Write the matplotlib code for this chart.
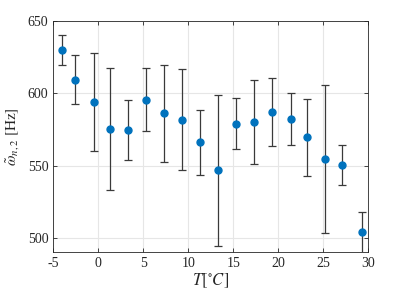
import matplotlib
matplotlib.use("Agg")
import matplotlib.pyplot as plt

temps = [-4.07, -2.56, -0.52, 1.30, 3.30, 5.30, 7.30, 9.30, 11.30, 13.30,
         15.27, 17.27, 19.26, 21.45, 23.19, 25.22, 27.08, 29.26]
freq = [630.0, 609.5, 593.8, 575.3, 574.8, 595.6, 586.0, 581.6, 566.1, 546.7,
        578.9, 580.3, 587.0, 582.2, 569.8, 554.5, 550.4, 504.2]
err_hi = [640.3, 626.3, 627.7, 617.3, 595.6, 617.4, 619.3, 616.6, 588.4, 598.6,
          596.4, 609.4, 610.6, 600.2, 596.3, 605.6, 564.3, 518.0]
err_lo = [619.6, 592.8, 559.9, 533.1, 553.9, 573.9, 552.6, 546.7, 543.7, 494.7,
          561.4, 551.1, 563.4, 564.1, 543.0, 503.4, 536.4, 489.0]

xticks = [-5, 0, 5, 10, 15, 20, 25, 30]
xticklabels = ["-5", "0", "5", "10", "15", "20", "25", "30"]
yticks = [500, 550, 600, 650]

plt.rcParams['font.family'] = ['Liberation Serif', 'DejaVu Serif']
plt.rcParams['mathtext.fontset'] = 'stix'

fig = plt.figure(figsize=(4.07, 2.91), dpi=100)
ax = fig.add_axes([0.131, 0.133, 0.774, 0.795])

lower = [f - l for f, l in zip(freq, err_lo)]
upper = [h - f for f, h in zip(freq, err_hi)]
ax.errorbar(temps, freq, yerr=[lower, upper], fmt='none', ecolor='#3a3a3a',
            elinewidth=0.9, capsize=3, capthick=0.9, zorder=2)
ax.plot(temps, freq, 'o', color='#0072BD', markersize=5, zorder=3)

ax.set_xlim(-5, 30)
ax.set_ylim(490, 650)
ax.set_xticks(xticks)
ax.set_xticklabels(xticklabels)
ax.set_yticks(yticks)
ax.grid(True, color='#e6e6e6', linewidth=0.8)
ax.set_axisbelow(True)
for s in ax.spines.values():
    s.set_color('#262626')
    s.set_linewidth(0.6)
ax.tick_params(direction='in', top=True, right=True, length=3, width=0.6,
               colors='#262626', labelsize=10, labelcolor='#262626')
ax.set_xlabel(r'$T[^{\circ}C]$', fontsize=12, labelpad=1, color='#262626')
ax.set_ylabel(r'$\tilde{\omega}_{n,2}$ $[\mathrm{Hz}]$', fontsize=11, labelpad=4, color='#262626')

fig.savefig('out.png', dpi=100)
